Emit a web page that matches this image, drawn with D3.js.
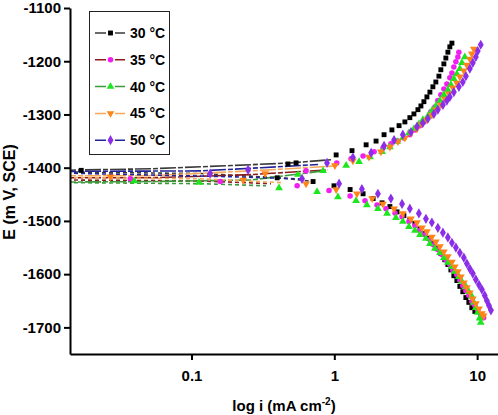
<!DOCTYPE html>
<html>
<head>
<meta charset="utf-8">
<script src="https://cdn.jsdelivr.net/npm/d3@7"></script>
<style>
  body { margin: 0; background: #fff; }
  text { font-family: "Liberation Sans", Arial, sans-serif; font-weight: bold; }
  .axis path, .axis line { stroke: #000; stroke-width: 2; }
  .axis text { font-size: 15px; fill: #000; }
</style>
</head>
<body>
<div class="box"></div>
<script>
// legend labels
var labels = ['30 °C', '35 °C', '40 °C', '45 °C', '50 °C'];

// tick values
var xTicks = [0.1, 1, 10];
var yTicks = [-1100, -1200, -1300, -1400, -1500, -1600, -1700];

// [i (mA cm-2), E (mV)]
var anodic30 = [[0.0169, -1405], [0.474, -1393], [0.540, -1391], [1.03, -1376], [1.33, -1368], [1.67, -1357],
	[1.96, -1350], [2.23, -1338], [2.53, -1329], [2.84, -1321], [3.12, -1314], [3.38, -1306], [3.61, -1299],
	[3.85, -1291], [4.04, -1284], [4.24, -1276], [4.45, -1267], [4.67, -1258], [4.90, -1248], [5.14, -1239],
	[5.40, -1228], [5.57, -1216], [5.85, -1205], [6.04, -1194], [6.24, -1183], [6.44, -1173], [6.66, -1166]];
var cathodic30 = [[0.398, -1419], [0.710, -1426], [0.995, -1434], [1.29, -1441], [1.59, -1449], [1.87, -1458],
	[2.16, -1466], [2.45, -1473], [2.75, -1483], [3.07, -1490], [3.38, -1498], [3.67, -1505], [3.98, -1515],
	[4.31, -1524], [4.59, -1533], [4.90, -1543], [5.23, -1552], [5.57, -1561], [5.94, -1573], [6.24, -1582],
	[6.55, -1592], [6.87, -1603], [7.21, -1612], [7.57, -1623], [7.94, -1633], [8.34, -1644], [8.75, -1653],
	[9.18, -1663], [9.64, -1670]];

var anodic35 = [[0.0373, -1421], [0.634, -1406], [1.04, -1391], [1.31, -1383], [1.59, -1378], [1.90, -1370],
	[2.19, -1363], [2.49, -1355], [2.79, -1350], [3.07, -1344], [3.38, -1338], [3.67, -1329], [3.98, -1321],
	[4.24, -1314], [4.52, -1306], [4.74, -1295], [5.06, -1286], [5.31, -1274], [5.57, -1263], [5.85, -1252],
	[6.14, -1243], [6.44, -1231], [6.66, -1222], [6.87, -1211], [7.10, -1201], [7.33, -1192], [7.45, -1183]];
var cathodic35 = [[0.159, -1426], [0.549, -1434], [0.918, -1443], [1.29, -1453], [1.64, -1462], [1.99, -1470],
	[2.30, -1477], [2.66, -1485], [2.98, -1492], [3.33, -1501], [3.67, -1509], [3.98, -1518], [4.31, -1526],
	[4.67, -1535], [4.98, -1545], [5.31, -1554], [5.66, -1563], [6.04, -1573], [6.44, -1582], [6.76, -1592],
	[7.21, -1601], [7.57, -1612], [7.94, -1622], [8.34, -1631], [8.75, -1640], [9.18, -1652], [9.64, -1659],
	[10.1, -1668], [10.6, -1676], [11.1, -1682]];

var anodic40 = [[0.0398, -1425], [0.113, -1428], [0.557, -1413], [0.834, -1406], [1.21, -1396], [1.49, -1389],
	[1.78, -1380], [2.16, -1370], [2.45, -1361], [2.75, -1351], [3.02, -1344], [3.33, -1335], [3.61, -1327],
	[3.91, -1318], [4.17, -1310], [4.52, -1303], [4.82, -1293], [5.14, -1284], [5.49, -1274], [5.85, -1263],
	[6.24, -1254], [6.55, -1244], [6.87, -1233], [7.21, -1224], [7.57, -1214], [7.82, -1203], [8.20, -1192]];
var cathodic40 = [[0.410, -1438], [0.757, -1445], [1.06, -1455], [1.42, -1462], [1.69, -1470], [2.02, -1477],
	[2.34, -1486], [2.70, -1494], [3.02, -1501], [3.33, -1511], [3.67, -1518], [3.98, -1526], [4.38, -1533],
	[4.67, -1543], [5.06, -1552], [5.49, -1560], [5.85, -1569], [6.24, -1578], [6.66, -1586], [6.98, -1595],
	[7.45, -1605], [7.82, -1614], [8.34, -1623], [8.75, -1633], [9.18, -1642], [9.48, -1653], [9.79, -1663],
	[10.1, -1672], [10.4, -1683], [10.6, -1691]];

var anodic45 = [[0.0270, -1417], [0.328, -1411], [1.01, -1396], [1.35, -1387], [1.75, -1380], [2.12, -1370],
	[2.45, -1361], [2.79, -1351], [3.12, -1344], [3.44, -1335], [3.79, -1327], [4.11, -1318], [4.45, -1310],
	[4.82, -1301], [5.14, -1291], [5.57, -1282], [5.94, -1271], [6.34, -1261], [6.76, -1250], [7.21, -1241],
	[7.57, -1229], [8.07, -1218], [8.47, -1207], [8.89, -1196], [9.18, -1186], [9.48, -1177]];
var cathodic45 = [[0.230, -1423], [0.634, -1430], [1.03, -1441], [1.44, -1449], [1.84, -1458], [2.19, -1468],
	[2.62, -1477], [3.02, -1486], [3.44, -1496], [3.79, -1503], [4.11, -1513], [4.45, -1520], [4.82, -1530],
	[5.14, -1539], [5.49, -1548], [5.85, -1558], [6.24, -1567], [6.66, -1577], [6.98, -1586], [7.33, -1595],
	[7.69, -1605], [8.07, -1616], [8.47, -1625], [8.89, -1635], [9.33, -1646], [9.79, -1655], [10.3, -1665],
	[10.8, -1674], [11.1, -1678]];

var anodic50 = [[0.135, -1411], [0.249, -1404], [0.889, -1391], [1.35, -1381], [1.81, -1372], [2.23, -1359],
	[2.62, -1348], [3.02, -1338], [3.44, -1333], [3.79, -1323], [4.17, -1316], [4.52, -1308], [4.98, -1299],
	[5.31, -1291], [5.76, -1282], [6.14, -1274], [6.44, -1267], [6.87, -1258], [7.45, -1248], [7.94, -1239],
	[8.34, -1228], [8.89, -1214], [9.33, -1203], [9.79, -1192], [10.1, -1181], [10.6, -1169]];
var cathodic50 = [[0.594, -1421], [1.08, -1430], [1.56, -1440], [2.02, -1449], [2.49, -1458], [2.98, -1468],
	[3.38, -1477], [3.91, -1486], [4.38, -1496], [4.82, -1503], [5.31, -1513], [5.76, -1522], [6.24, -1531],
	[6.66, -1541], [7.10, -1550], [7.57, -1560], [8.07, -1569], [8.47, -1580], [8.89, -1590], [9.33, -1599],
	[9.79, -1610], [10.3, -1620], [10.8, -1629], [11.3, -1640], [11.7, -1650], [12.1, -1659], [12.5, -1668]];

// noisy traces near the corrosion potential
var near30 = [[[0.012, -1405], [0.0524, -1402], [0.190, -1396], [0.498, -1391], [0.948, -1385]],
	[[0.012, -1408], [0.117, -1411], [0.424, -1419], [0.710, -1426]]];
var near35 = [[[0.012, -1419], [0.0524, -1419], [0.262, -1413], [0.904, -1404]],
	[[0.012, -1423], [0.117, -1425], [0.360, -1430]]];
var near40 = [[[0.012, -1427], [0.0524, -1426], [0.262, -1423], [0.834, -1406]],
	[[0.012, -1428], [0.117, -1430], [0.332, -1434]]];
var near45 = [[[0.012, -1415], [0.0524, -1415], [0.262, -1406], [0.995, -1397]],
	[[0.012, -1418], [0.117, -1421], [0.424, -1428]]];
var near50 = [[[0.012, -1407], [0.117, -1406], [0.307, -1400], [0.769, -1394]],
	[[0.012, -1410], [0.190, -1417], [0.585, -1421]]];

var series = [
	{label: labels[0], marker: '#000000', line: '#3a3a3a', symbol: d3.symbolSquare, size: 24, near: near30, pts: anodic30.concat(cathodic30)},
	{label: labels[1], marker: '#f01ef0', line: '#8b1c1c', symbol: d3.symbolCircle, size: 24, near: near35, pts: anodic35.concat(cathodic35)},
	{label: labels[2], marker: '#1ee61e', line: '#3c9a3c', symbol: d3.symbolTriangle, size: 26, near: near40, pts: anodic40.concat(cathodic40)},
	{label: labels[3], marker: '#ff8418', line: '#f5a85a', symbol: d3.symbolTriangle, size: 26, flip: true, near: near45, pts: anodic45.concat(cathodic45)},
	{label: labels[4], marker: '#8a2ee8', line: '#24249a', symbol: d3.symbolDiamond, size: 30, near: near50, pts: anodic50.concat(cathodic50)}
];

var width = 498, height = 415;
var mLeft = 70, mRight = 498, mTop = 8, mBottom = 354;

var svg = d3.select('.box')
	.append('svg')
	.attr('width', width)
	.attr('height', height);

var x = d3.scaleLog().domain([0.0141, 14]).range([mLeft, mRight]);
var y = d3.scaleLinear().domain([-1750, -1100]).range([mBottom, mTop]);

svg.append('clipPath')
	.attr('id', 'plot')
	.append('rect')
		.attr('x', mLeft)
		.attr('y', mTop)
		.attr('width', mRight - mLeft)
		.attr('height', mBottom - mTop);

var line = d3.line()
	.x(function(d) { return x(d[0]); })
	.y(function(d) { return y(d[1]); });

var g = svg.append('g').attr('clip-path', 'url(#plot)');

// lines first, markers on top
series.forEach(function(s) {
	g.selectAll(null)
		.data(s.near)
		.enter()
		.append('path')
			.attr('d', line)
			.attr('fill', 'none')
			.attr('stroke', s.line)
			.attr('stroke-width', 1.6)
			.attr('stroke-dasharray', function(d, i) { return i === 0 ? '16,2,5,2' : '4,3'; });
});

series.forEach(function(s) {
	var sym = d3.symbol().type(s.symbol).size(s.size);
	g.selectAll(null)
		.data(s.pts)
		.enter()
		.append('path')
			.attr('d', sym)
			.attr('transform', function(d) {
				return 'translate(' + x(d[0]) + ',' + y(d[1]) + ')' + (s.flip ? ' rotate(180)' : '');
			})
			.attr('fill', s.marker);
});

// axes
svg.append('g')
	.attr('class', 'axis')
	.attr('transform', 'translate(' + mLeft + ',0)')
	.call(d3.axisLeft(y).tickValues(yTicks).tickSize(6).tickSizeOuter(0).tickPadding(3)
		.tickFormat(function(d) { return String(d); }));

svg.append('g')
	.attr('class', 'axis')
	.attr('transform', 'translate(0,' + mBottom + ')')
	.call(d3.axisBottom(x).tickValues(xTicks).tickSize(6).tickSizeOuter(0).tickPadding(10)
		.tickFormat(function(d) { return String(d); }));

svg.append('text')
	.attr('transform', 'translate(15,192) rotate(-90)')
	.attr('text-anchor', 'middle')
	.style('font-size', '16px')
	.text('E (m V, SCE)');

var xl = svg.append('text')
	.attr('x', 284)
	.attr('y', 411)
	.attr('text-anchor', 'middle')
	.style('font-size', '15px');
xl.append('tspan').text('log i (mA cm');
xl.append('tspan').attr('dy', -6).style('font-size', '10px').text('-2');
xl.append('tspan').attr('dy', 6).text(')');

// legend
var legend = svg.append('g');
legend.append('rect')
	.attr('x', 89.5)
	.attr('y', 11.5)
	.attr('width', 80)
	.attr('height', 143)
	.attr('fill', '#fff')
	.attr('stroke', '#222')
	.attr('stroke-width', 1);

var rows = legend.selectAll('g.row')
	.data(series)
	.enter()
	.append('g')
		.attr('class', 'row')
		.attr('transform', function(d, i) { return 'translate(0,' + (33 + i * 26.8) + ')'; });

rows.append('path')
	.attr('d', 'M95,0H106M115,0H125')
	.attr('stroke', function(d) { return d.line; })
	.attr('stroke-width', 1.5);

rows.append('path')
	.attr('d', function(d) { return d3.symbol().type(d.symbol).size(d.size)(); })
	.attr('transform', function(d) { return 'translate(110.5,0)' + (d.flip ? ' rotate(180)' : ''); })
	.attr('fill', function(d) { return d.marker; });

rows.append('text')
	.attr('x', 130)
	.attr('y', 5)
	.style('font-size', '14px')
	.text(function(d) { return d.label; });
</script>
</body>
</html>
